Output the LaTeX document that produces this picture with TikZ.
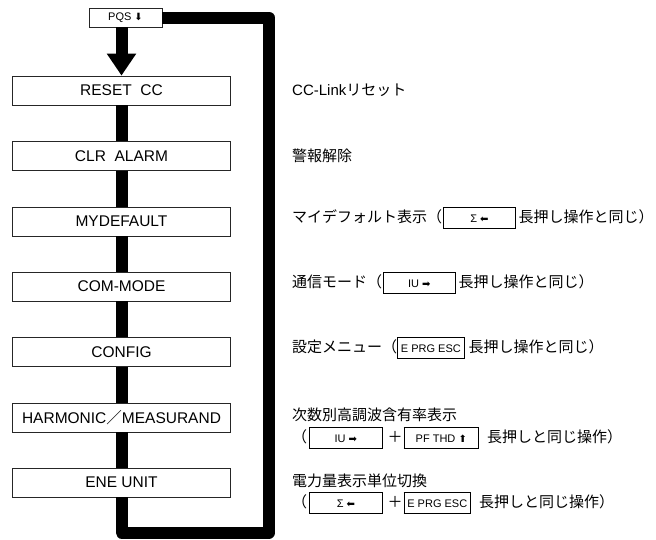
\documentclass[tikz,border=0pt]{standalone}
\usepackage{fontspec}
\setmainfont{Liberation Sans}
\newfontfamily\jpfont{Noto Sans CJK JP}
\newfontfamily\symfont{DejaVu Sans}
\usetikzlibrary{arrows.meta}
\newcommand\keybox[2]{{\setlength\fboxsep{0pt}\setlength\fboxrule{0.7pt}\fbox{\rule[-5.5pt]{0pt}{20pt}\makebox[#1]{\fontsize{11}{13}\selectfont #2}}}}
\newcommand\symarr[1]{{\symfont\fontsize{10}{12}\selectfont #1}}
\begin{document}
\begin{tikzpicture}[x=1pt,y=-1pt,
  mbox/.style={draw=black!85,line width=0.8pt,fill=white,minimum width=218.4pt,minimum height=29pt,inner sep=0pt,font=\fontsize{15.5}{18}\selectfont},
  pqsbox/.style={draw=black!85,line width=0.8pt,fill=white,minimum width=73pt,minimum height=19pt,inner sep=0pt,font=\fontsize{11}{13}\selectfont},
  spine/.style={line width=12pt,black},
  rtext/.style={anchor=west,inner sep=0pt,font=\jpfont\fontsize{15}{18}\selectfont}]
\useasboundingbox (0,0) rectangle (656,539);
\node[pqsbox] (pqs) at (125.5,17.5) {PQS \symarr{⬇}};
\node[mbox] (n1) at (121.5,90.5) {RESET\ \ CC};
\node[mbox] (n2) at (121.5,156) {CLR\ \ ALARM};
\node[mbox] (n3) at (121.5,221.5) {MYDEFAULT};
\node[mbox] (n4) at (121.5,286.5) {COM-MODE};
\node[mbox] (n5) at (121.5,352) {CONFIG};
\node[mbox] (n6) at (121.5,417.5) {HARMONIC{\jpfont ／}MEASURAND};
\node[mbox] (n7) at (121.5,482.5) {ENE UNIT};
\coordinate (br) at (269,532.5);
\coordinate (tr) at (269,17.5);
\draw[spine,-{Triangle[width=28pt,length=22pt]}] (pqs.south -| n1.north) -- (n1.north);
\foreach \a/\b in {n1/n2,n2/n3,n3/n4,n4/n5,n5/n6,n6/n7}
  \draw[spine] (\a.south) -- (\b.north);
\draw[spine,line join=round] (n7.south) |- (br) -- (tr) -- (pqs.east);
\node[rtext] (t1) at (292,90) {{\rmfamily\fontsize{15}{18}\selectfont CC-Link}リセット};
\node[rtext] (t2) at (292,156) {警報解除};
\node[rtext] (t3) at (292,218) {マイデフォルト表示（\hspace{1pt}\keybox{71pt}{\rmfamily Σ \symarr{⬅}}\hspace{3pt}長押し操作と同じ）};
\node[rtext] (t4) at (292,283) {通信モード（\hspace{1pt}\keybox{71pt}{\rmfamily IU \symarr{➡}}\hspace{3pt}長押し操作と同じ）};
\node[rtext] (t5) at (292,348) {設定メニュー（\keybox{66pt}{\rmfamily E PRG ESC}\hspace{4pt}長押し操作と同じ）};
\node[rtext] (t6) at (292,415) {次数別高調波含有率表示};
\node[rtext] (t7) at (292,438) {（\hspace{2pt}\keybox{72pt}{\rmfamily IU \symarr{➡}}\hspace{5pt}＋\hspace{1pt}\keybox{74pt}{\rmfamily PF THD \symarr{⬆}}\hspace{8pt}長押しと同じ操作）};
\node[rtext] (t8) at (292,481) {電力量表示単位切換};
\node[rtext] (t9) at (292,503) {（\hspace{2pt}\keybox{72pt}{\rmfamily Σ \symarr{⬅}}\hspace{5pt}＋\hspace{1pt}\keybox{66pt}{\rmfamily E PRG ESC}\hspace{8pt}長押しと同じ操作）};
\end{tikzpicture}
\end{document}
